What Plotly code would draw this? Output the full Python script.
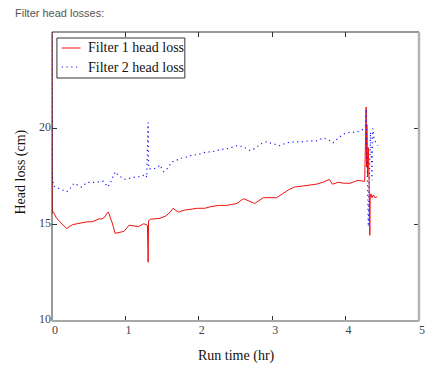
import plotly.graph_objects as go

# ---- data ----
t1 = [0.0, 0.005, 0.02, 0.06, 0.107, 0.15, 0.2, 0.28, 0.35, 0.42, 0.48, 0.55, 0.64, 0.68,
      0.72, 0.75, 0.77, 0.80, 0.82, 0.86, 0.91, 0.98, 1.05, 1.12, 1.18, 1.25, 1.30, 1.31,
      1.315, 1.34, 1.40, 1.47, 1.55, 1.61, 1.65, 1.72, 1.80, 1.90, 1.98, 2.08, 2.18, 2.28,
      2.38, 2.45, 2.52, 2.61, 2.68, 2.76, 2.88, 2.97, 3.06, 3.14, 3.22, 3.30, 3.40, 3.50,
      3.60, 3.69, 3.78, 3.82, 3.90, 3.98, 4.06, 4.17, 4.26, 4.28, 4.285, 4.29, 4.30, 4.31,
      4.32, 4.33, 4.335, 4.345, 4.36, 4.38, 4.40, 4.43]
f1 = [26.0, 15.6, 15.65, 15.35, 15.15, 15.0, 14.8, 15.0, 15.05, 15.1, 15.15, 15.15, 15.3, 15.3,
      15.4, 15.6, 15.65, 15.3, 15.1, 14.55, 14.6, 14.65, 14.97, 14.95, 14.9, 15.05, 14.97, 13.05,
      15.2, 15.28, 15.3, 15.33, 15.45, 15.65, 15.85, 15.65, 15.75, 15.8, 15.85, 15.85, 15.95, 16.0,
      16.0, 16.05, 16.1, 16.35, 16.25, 16.1, 16.4, 16.4, 16.4, 16.6, 16.8, 16.95, 17.0, 17.05,
      17.1, 17.2, 17.35, 17.1, 17.2, 17.15, 17.15, 17.3, 17.25, 21.1, 18.0, 20.2, 17.5, 19.0,
      17.2, 14.45, 16.4, 16.6, 16.4, 16.55, 16.4, 16.45]

t2 = [0.0, 0.005, 0.02, 0.1, 0.2, 0.25, 0.3, 0.4, 0.48, 0.6, 0.7, 0.76, 0.8, 0.84, 0.87, 0.9,
      0.95, 1.0, 1.05, 1.1, 1.2, 1.28, 1.29, 1.31, 1.315, 1.32, 1.38, 1.43, 1.47, 1.52, 1.58,
      1.63, 1.7, 1.76, 1.82, 1.9, 2.0, 2.08, 2.2, 2.3, 2.4, 2.52, 2.6, 2.7, 2.76, 2.85, 2.92,
      3.0, 3.1, 3.2, 3.3, 3.4, 3.5, 3.6, 3.7, 3.77, 3.83, 3.9, 3.97, 4.06, 4.15, 4.24, 4.27,
      4.28, 4.29, 4.30, 4.31, 4.32, 4.34, 4.36, 4.37, 4.39, 4.44]
f2 = [26.0, 17.5, 17.0, 16.85, 16.7, 16.9, 17.15, 16.95, 17.2, 17.2, 17.25, 16.95, 17.2, 17.6,
      17.75, 17.55, 17.45, 17.35, 17.4, 17.45, 17.5, 17.6, 17.45, 20.3, 18.0, 17.9, 17.9, 17.95,
      18.1, 17.75, 17.95, 18.25, 18.35, 18.45, 18.5, 18.6, 18.65, 18.75, 18.8, 18.9, 18.95, 19.1,
      19.05, 18.85, 18.95, 19.2, 19.3, 19.2, 19.1, 19.25, 19.3, 19.3, 19.35, 19.35, 19.5, 19.4,
      19.25, 19.5, 19.7, 19.8, 19.8, 19.95, 20.1, 21.0, 19.0, 18.0, 14.9, 17.0, 19.8, 17.3,
      20.0, 19.4, 19.1]

series_names = ["Filter 1 head loss", "Filter 2 head loss"]
x_ticks = [0, 1, 2, 3, 4, 5]
y_ticks = [10, 15, 20]
x_range = [0, 5]
y_range = [10, 25]

SERIF = "Liberation Serif, Times New Roman, serif"
RED = "#f01010"
BLUE = "#1a1aff"
BLUE_DASH = "1.2px,3.5px"

fig = go.Figure()
fig.add_trace(go.Scatter(x=t1, y=f1, mode="lines", name=series_names[0],
                         line=dict(color=RED, width=1), showlegend=False))
fig.add_trace(go.Scatter(x=t2, y=f2, mode="lines", name=series_names[1],
                         line=dict(color=BLUE, width=1.2, dash=BLUE_DASH), showlegend=False))

W, H = 428, 369
L, R, T, B = 52, 3, 32, 48
pw, ph = W - L - R, H - T - B


def px2x(px):
    return (px - L) / pw


def py2y(py):
    return (H - B - py) / ph


shapes = [
    # frame
    dict(type="line", xref="paper", yref="paper", x0=0, x1=0, y0=0, y1=1,
         line=dict(color="#333333", width=1)),
    dict(type="line", xref="paper", yref="paper", x0=0, x1=1, y0=1, y1=1,
         line=dict(color="#333333", width=1)),
    dict(type="line", xref="paper", yref="paper", x0=0, x1=1, y0=0, y1=0,
         line=dict(color="#a8a8a8", width=2)),
    dict(type="line", xref="paper", yref="paper", x0=1, x1=1, y0=0, y1=1,
         line=dict(color="#b4b4b4", width=2.5)),
    # legend box
    dict(type="rect", xref="paper", yref="paper", x0=px2x(57), x1=px2x(187),
         y0=py2y(78), y1=py2y(38), line=dict(color="#333333", width=1),
         fillcolor="white", layer="above"),
    dict(type="line", xref="paper", yref="paper", x0=px2x(62), x1=px2x(81),
         y0=py2y(48), y1=py2y(48), line=dict(color=RED, width=1), layer="above"),
    dict(type="line", xref="paper", yref="paper", x0=px2x(62), x1=px2x(81),
         y0=py2y(67), y1=py2y(67), line=dict(color=BLUE, width=1.2, dash=BLUE_DASH),
         layer="above"),
]

annotations = [
    dict(text=series_names[0], xref="paper", yref="paper", x=px2x(87), y=py2y(48),
         xanchor="left", yanchor="middle", showarrow=False,
         font=dict(family=SERIF, size=14, color="#111111")),
    dict(text=series_names[1], xref="paper", yref="paper", x=px2x(87), y=py2y(67),
         xanchor="left", yanchor="middle", showarrow=False,
         font=dict(family=SERIF, size=14, color="#111111")),
    dict(text="Run time (hr)", xref="paper", yref="paper", x=px2x(240), y=py2y(356),
         xanchor="center", yanchor="middle", showarrow=False,
         font=dict(family=SERIF, size=14, color="#111111")),
    dict(text="Head loss (cm)", xref="paper", yref="paper", x=px2x(21), y=py2y(172),
         xanchor="center", yanchor="middle", showarrow=False, textangle=-90,
         font=dict(family=SERIF, size=14, color="#111111")),
    dict(text="Filter head losses:", xref="paper", yref="paper", x=px2x(12), y=py2y(13),
         xanchor="left", yanchor="middle", showarrow=False,
         font=dict(family="Liberation Sans, Arial, sans-serif", size=11, color="#555555")),
]

fig.update_layout(
    width=W, height=H,
    margin=dict(l=L, r=R, t=T, b=B, pad=0),
    paper_bgcolor="white", plot_bgcolor="white",
    showlegend=False,
    shapes=shapes,
    annotations=annotations,
    xaxis=dict(range=x_range, tickvals=x_ticks, ticktext=[str(v) for v in x_ticks],
               showgrid=False, zeroline=False, showline=False,
               ticks="inside", ticklen=5, tickcolor="#333333", tickwidth=1,
               mirror="ticks", ticklabelshift=3, ticklabeloverflow="allow",
               tickfont=dict(family=SERIF, size=12, color="#444444")),
    yaxis=dict(range=y_range, tickvals=y_ticks, ticktext=[str(v) for v in y_ticks],
               showgrid=False, zeroline=False, showline=False,
               ticks="inside", ticklen=5, tickcolor="#333333", tickwidth=1,
               mirror="ticks", ticklabelshift=-2,
               tickfont=dict(family=SERIF, size=12, color="#444444")),
)

fig.write_html("out.html")
